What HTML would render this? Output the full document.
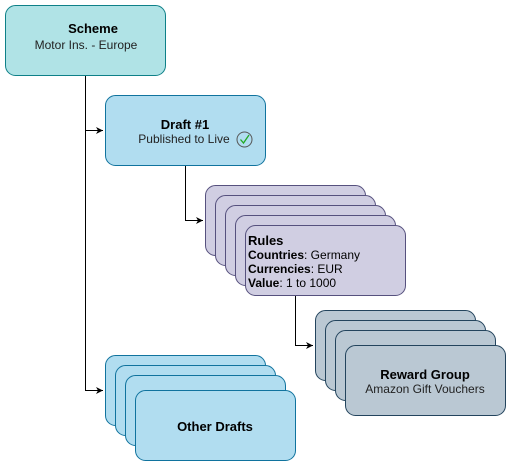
<!DOCTYPE html>
<html><head><style>body{margin:0;background:#fff}</style></head><body>
<svg width="511" height="466" viewBox="0 0 511 466" xmlns="http://www.w3.org/2000/svg" font-family="Liberation Sans, sans-serif" font-size="12">
<defs><marker id="a" markerWidth="8" markerHeight="8" refX="7" refY="4" orient="auto" markerUnits="userSpaceOnUse"><path d="M0,0.5 L7,4 L0,7.5 L2,4 Z" fill="#000"/></marker></defs>
<g fill="none" stroke="#000" stroke-width="1">
<path d="M85.5 75 V130.5 H103" marker-end="url(#a)"/>
<path d="M85.5 130 V390.5 H103" marker-end="url(#a)"/>
<path d="M185.5 165 V220.5 H203" marker-end="url(#a)"/>
<path d="M295.5 295 V345.5 H313" marker-end="url(#a)"/>
</g>
<rect x="5.5" y="5.5" width="160" height="70" rx="10" fill="#b0e3e6" stroke="#0e8088"/>
<text x="93" y="33" text-anchor="middle" font-weight="bold" font-size="13">Scheme</text>
<text x="86" y="49" text-anchor="middle" fill="#222">Motor Ins. - Europe</text>
<rect x="105.5" y="95.5" width="160" height="70" rx="10" fill="#b1ddf0" stroke="#10739e"/>
<text x="185" y="129" text-anchor="middle" font-weight="bold" font-size="13">Draft #1</text>
<text x="184" y="143" text-anchor="middle" fill="#222">Published to Live</text>
<circle cx="244.5" cy="139.5" r="7.5" fill="none" stroke="#555"/>
<path d="M240.5 139.5 L243.5 143 L249 135" fill="none" stroke="#2a2" stroke-width="1.3"/>
<g fill="#d0cee2" stroke="#56517e">
<rect x="205.5" y="185.5" width="160" height="70" rx="10"/>
<rect x="215.5" y="195.5" width="160" height="70" rx="10"/>
<rect x="225.5" y="205.5" width="160" height="70" rx="10"/>
<rect x="235.5" y="215.5" width="160" height="70" rx="10"/>
<rect x="245.5" y="225.5" width="160" height="70" rx="10"/>
</g>
<text x="248" y="245" font-weight="bold" font-size="13">Rules</text>
<text x="248" y="259"><tspan font-weight="bold">Countries</tspan>: Germany</text>
<text x="248" y="273"><tspan font-weight="bold">Currencies</tspan>: EUR</text>
<text x="248" y="287"><tspan font-weight="bold">Value</tspan>: 1 to 1000</text>
<g fill="#bac8d3" stroke="#23445d">
<rect x="315.5" y="310.5" width="160" height="70" rx="10"/>
<rect x="325.5" y="320.5" width="160" height="70" rx="10"/>
<rect x="335.5" y="330.5" width="160" height="70" rx="10"/>
<rect x="345.5" y="345.5" width="160" height="70" rx="10"/>
</g>
<text x="425" y="379" text-anchor="middle" font-weight="bold" font-size="13">Reward Group</text>
<text x="425" y="393" text-anchor="middle" fill="#222">Amazon Gift Vouchers</text>
<g fill="#b1ddf0" stroke="#10739e">
<rect x="105.5" y="355.5" width="160" height="70" rx="10"/>
<rect x="115.5" y="365.5" width="160" height="70" rx="10"/>
<rect x="125.5" y="375.5" width="160" height="70" rx="10"/>
<rect x="135.5" y="390.5" width="160" height="70" rx="10"/>
</g>
<text x="215" y="431" text-anchor="middle" font-weight="bold" font-size="13">Other Drafts</text>
</svg>
</body></html>
